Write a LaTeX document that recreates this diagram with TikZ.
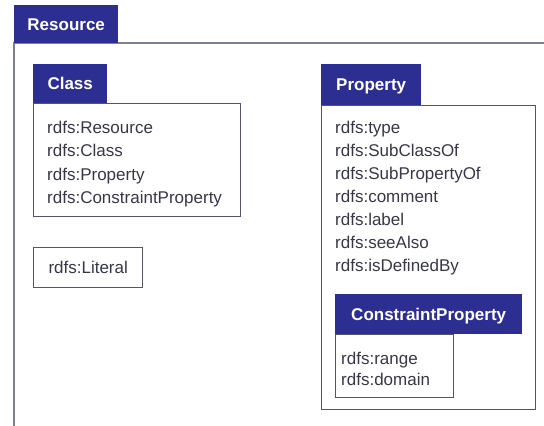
\documentclass[tikz,border=0pt]{standalone}
\usepackage{fontspec}
\setmainfont{Liberation Sans}
\definecolor{rdfblue}{RGB}{44,46,146}
\definecolor{rdfline}{RGB}{84,84,112}
\definecolor{rdftext}{RGB}{55,55,72}
\begin{document}
\begin{tikzpicture}[x=1pt,y=-1pt,
    tab/.style={fill=rdfblue,text=white,font=\fontsize{17}{20}\selectfont\bfseries,
      anchor=north west,inner sep=0pt,text height=12pt,text depth=0pt},
    box/.style={draw=rdfline,line width=1.4pt,fill=white,anchor=north west,inner sep=0pt,
      text=rdftext,font=\fontsize{17}{20}\selectfont},
    items/.style={anchor=north west,align=left,inner sep=0pt,text=rdftext}]
    \useasboundingbox (0,0) rectangle (544,426);
    \fill[white] (0,0) rectangle (544,426);

    % Resource frame
    \draw[line width=2pt,rdfline!75] (14,426) -- (14,43) -- (544,43);
    \node[tab,minimum width=104pt,minimum height=38pt] (restab) at (14,5) {Resource};

    % Class
    \node[box,minimum width=207pt,minimum height=113pt] (clsbody) at (33,103) {};
    \node[tab,minimum width=74pt,minimum height=39pt] (clstab) at (33,64) {Class};
    \node[items,font=\fontsize{17}{23.5}\selectfont] (clsitems)
        at ([xshift=14pt,yshift=-17.5pt]clsbody.north west)
        {rdfs:Resource\\rdfs:Class\\rdfs:Property\\rdfs:ConstraintProperty};

    \node[box,minimum width=109pt,minimum height=40pt] (literal) at (33,247) {rdfs:Literal};

    % Property
    \node[box,minimum width=214pt,minimum height=304pt] (propbody) at (321,105) {};
    \node[tab,minimum width=100pt,minimum height=41pt] (proptab) at (321,64) {Property};
    \node[items,font=\fontsize{17}{23}\selectfont] (propitems)
        at ([xshift=14pt,yshift=-15.5pt]propbody.north west)
        {rdfs:type\\rdfs:SubClassOf\\rdfs:SubPropertyOf\\rdfs:comment\\rdfs:label\\rdfs:seeAlso\\rdfs:isDefinedBy};

    % ConstraintProperty
    \node[box,minimum width=118pt,minimum height=63pt] (cpbody) at (335,334) {};
    \node[tab,minimum width=187pt,minimum height=40pt] (cptab) at (335,294) {ConstraintProperty};
    \node[items,font=\fontsize{17}{21}\selectfont] (cpitems)
        at ([xshift=6pt,yshift=-17.5pt]cpbody.north west)
        {rdfs:range\\rdfs:domain};
\end{tikzpicture}
\end{document}
